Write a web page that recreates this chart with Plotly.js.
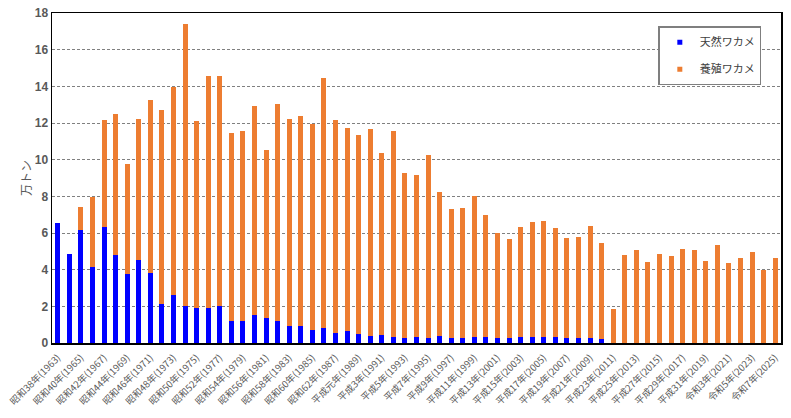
<!DOCTYPE html>
<html>
<head>
<meta charset="utf-8">
<script src="https://cdn.plot.ly/plotly-3.0.1.min.js"></script>
<style>
  body { margin: 0; background: #ffffff; }
  #myDiv { width: 791px; height: 418px; }
</style>
</head>
<body>
<div id="myDiv"></div>
<script>
// 年（1963〜2025）
const years = [];
for (let y = 1963; y <= 2025; y++) years.push(y);

// 天然ワカメ（万トン）
const natural = [
  6.52, 4.83, 6.17, 4.15, 6.34, 4.79, 3.77, 4.54, 3.83, 2.13,
  2.62, 2.00, 1.93, 1.93, 2.00, 1.20, 1.20, 1.54, 1.37, 1.21,
  0.93, 0.93, 0.71, 0.84, 0.55, 0.66, 0.49, 0.37, 0.44, 0.33,
  0.27, 0.31, 0.27, 0.38, 0.26, 0.26, 0.31, 0.31, 0.26, 0.27,
  0.33, 0.33, 0.31, 0.31, 0.26, 0.26, 0.26, 0.20, 0, 0,
  0, 0, 0, 0, 0, 0, 0, 0, 0, 0,
  0, 0, 0
];

// 養殖ワカメ（万トン）
const farmed = [
  0, 0, 1.26, 3.81, 5.81, 7.71, 5.99, 7.66, 9.45, 10.57,
  11.33, 15.40, 10.18, 12.66, 12.59, 10.28, 10.38, 11.39, 9.14, 11.83,
  11.31, 11.46, 11.26, 13.60, 11.62, 11.07, 10.86, 11.29, 9.92, 11.25,
  8.98, 8.83, 9.99, 7.83, 7.03, 7.08, 7.72, 6.67, 5.73, 5.39,
  6.01, 6.25, 6.34, 5.94, 5.46, 5.51, 6.13, 5.26, 1.84, 4.81,
  5.06, 4.44, 4.88, 4.74, 5.12, 5.06, 4.50, 5.36, 4.37, 4.66,
  4.95, 3.97, 4.66
];

// 目盛ラベル（2年おき）
const tickYears = [
  1963, 1965, 1967, 1969, 1971, 1973, 1975, 1977, 1979, 1981, 1983,
  1985, 1987, 1989, 1991, 1993, 1995, 1997, 1999, 2001, 2003, 2005,
  2007, 2009, 2011, 2013, 2015, 2017, 2019, 2021, 2023, 2025
];
const tickLabels = [
  '昭和38年(1963)', '昭和40年(1965)', '昭和42年(1967)', '昭和44年(1969)',
  '昭和46年(1971)', '昭和48年(1973)', '昭和50年(1975)', '昭和52年(1977)',
  '昭和54年(1979)', '昭和56年(1981)', '昭和58年(1983)', '昭和60年(1985)',
  '昭和62年(1987)', '平成元年(1989)', '平成3年(1991)', '平成5年(1993)',
  '平成7年(1995)', '平成9年(1997)', '平成11年(1999)', '平成13年(2001)',
  '平成15年(2003)', '平成17年(2005)', '平成19年(2007)', '平成21年(2009)',
  '平成23年(2011)', '平成25年(2013)', '平成27年(2015)', '平成29年(2017)',
  '平成31年(2019)', '令和3年(2021)', '令和5年(2023)', '令和7年(2025)'
];

const jpFont = '"Noto Sans CJK JP", "Noto Sans", sans-serif';
const blue = '#0000ff';
const orange = '#ed7d31';

const traces = [
  {
    x: years, y: natural, type: 'bar', name: '天然ワカメ',
    marker: {color: blue}, showlegend: false, hoverinfo: 'y'
  },
  {
    x: years, y: farmed, type: 'bar', name: '養殖ワカメ',
    marker: {color: orange}, showlegend: false, hoverinfo: 'y'
  },
  // 凡例用（小さな四角）
  {
    x: [null], y: [null], type: 'scatter', mode: 'markers', name: '天然ワカメ',
    marker: {symbol: 'square', size: 5, color: blue}, legendgroup: 'a'
  },
  {
    x: [null], y: [null], type: 'scatter', mode: 'markers', name: '養殖ワカメ',
    marker: {symbol: 'square', size: 5, color: orange}, legendgroup: 'b'
  }
];

const layout = {
  width: 791,
  height: 418,
  barmode: 'stack',
  bargap: 0.56,
  paper_bgcolor: '#ffffff',
  plot_bgcolor: '#ffffff',
  margin: {l: 52, r: 10, t: 13, b: 75},
  xaxis: {
    range: [1962.5, 2025.5],
    tickmode: 'array',
    tickvals: tickYears,
    ticktext: tickLabels,
    tickangle: -45,
    tickfont: {family: jpFont, size: 9.5, color: '#595959'},
    ticks: 'outside',
    ticklen: 4,
    tickcolor: 'rgba(0,0,0,0)',
    showgrid: false,
    zeroline: false,
    showline: true,
    mirror: true,
    linecolor: '#000000',
    linewidth: 1.5,
    automargin: false
  },
  yaxis: {
    range: [0, 18],
    tick0: 0,
    dtick: 2,
    ticks: '',
    tickfont: {family: '"Liberation Sans", Arial, sans-serif', size: 12, color: '#595959', weight: 'bold'},
    showgrid: true,
    gridcolor: '#808080',
    gridwidth: 1,
    griddash: '3px,2px',
    zeroline: false,
    showline: true,
    mirror: true,
    linecolor: '#000000',
    linewidth: 1.5,
    automargin: false,
    title: {text: '万トン', font: {family: jpFont, size: 12, color: '#595959'}, standoff: 0}
  },
  legend: {
    x: 0.973,
    y: 0.96,
    xanchor: 'right',
    yanchor: 'top',
    bgcolor: '#ffffff',
    bordercolor: '#7f7f7f',
    borderwidth: 1.5,
    traceorder: 'grouped',
    tracegroupgap: 8,
    itemwidth: 30,
    font: {family: jpFont, size: 11, color: '#404040'}
  },
  showlegend: true
};

Plotly.newPlot('myDiv', traces, layout, {displayModeBar: false, staticPlot: true});
</script>
</body>
</html>
